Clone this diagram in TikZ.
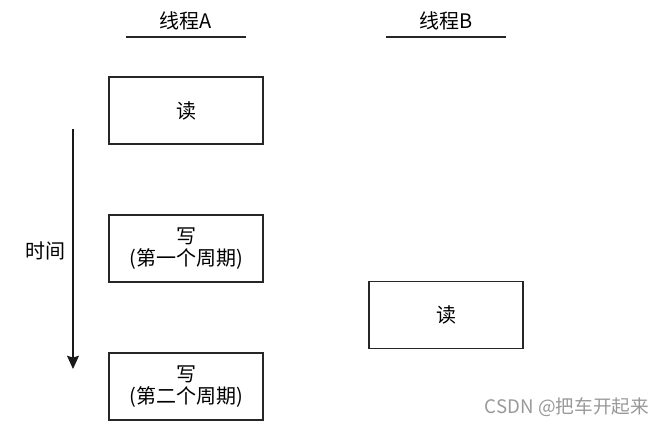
\documentclass[tikz,border=0pt]{standalone}
\usepackage{fontspec}
\setmainfont{Noto Sans CJK SC}
\usetikzlibrary{arrows.meta}
\begin{document}
\begin{tikzpicture}[x=0.75pt,y=-0.75pt,
  stepbox/.style={draw=black!85,line width=1pt,minimum width=154*0.75pt,minimum height=67*0.75pt,inner sep=0pt,align=center,font=\fontsize{15}{16.5}\selectfont},
  hdr/.style={font=\fontsize{15}{17}\selectfont,inner sep=0pt},
  hline/.style={line width=1pt,draw=black!85}]
\useasboundingbox (0,0) rectangle (668,426);
\node[hdr] (ta) at (186,21) {线程A};
\node[hdr] (tb) at (446,21) {线程B};
\coordinate (ta1) at (126,37); \coordinate (ta2) at (246,37);
\coordinate (tb1) at (386,37); \coordinate (tb2) at (506,37);
\draw[hline] (ta1) -- (ta2);
\draw[hline] (tb1) -- (tb2);
\node[stepbox] (r1) at (186,110.5) {读};
\node[stepbox] (w1) at (186,248.5) {写\\(第一个周期)};
\node[stepbox] (w2) at (186,386.5) {写\\(第二个周期)};
\node[stepbox] (rb) at (446,315) {读};
\coordinate (t1) at (73,129); \coordinate (t2) at (73,369);
\draw[line width=1pt,draw=black!90,-{Stealth[length=10pt,width=9pt,inset=1.5pt]}] (t1) -- (t2);
\node[hdr] (time) at (46,251) {时间};
\node[font=\fontsize{14}{16}\selectfont,text=black!40,inner sep=0pt] (wm) at (567,407) {CSDN @把车开起来};
\end{tikzpicture}
\end{document}
